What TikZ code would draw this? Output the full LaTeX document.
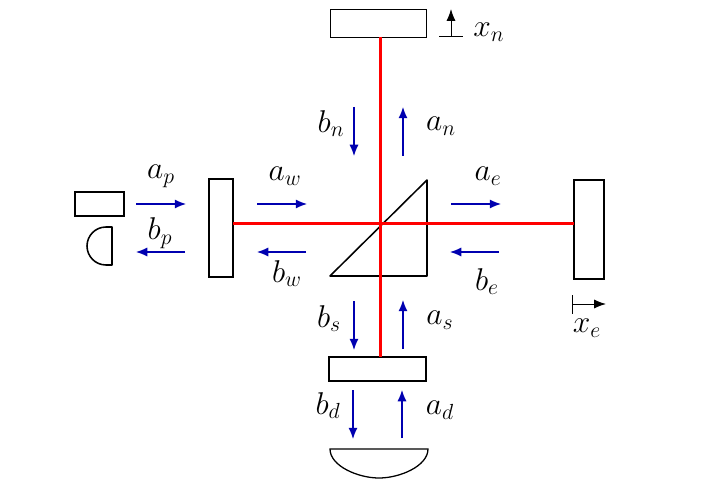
\documentclass[tikz,border=0pt]{standalone}
\usepackage{amssymb, amsmath, amsfonts}
\usetikzlibrary{arrows.meta,fit}
\definecolor{fieldblue}{RGB}{0,0,176}
\tikzset{
	mirror/.style={draw,line width=1.1pt,inner sep=0pt,outer sep=0pt},
	beam/.style={draw=red,line width=2.1pt},
	field/.style={draw=fieldblue,line width=.9pt,-{Latex[length=8pt,width=6.5pt]}},
	shift arrow/.style={line width=.7pt,-{Latex[length=8.5pt,width=6.5pt]}},
	lbl/.style={inner sep=0pt,font=\huge,scale=1.08,yshift=-1pt}
}
\begin{document}
\begin{tikzpicture}[x=.025cm,y=-.025cm]
	\useasboundingbox (0,0) rectangle (706,499);

	\node[mirror,line width=.7pt,fit={(330,9) (426,37)}] (mirrorN) {};
	\node[mirror,fit={(329,357) (426,381)}] (mirrorS) {};
	\node[mirror,fit={(574,180) (604,279)}] (mirrorE) {};
	\node[mirror,fit={(209,179) (233,277)}] (mirrorW) {};
	\node[mirror,fit={(75,192) (124,216)}] (mirrorP) {};

	% beam splitter
	\coordinate (split) at (380.5,223.5);
	\draw[line width=1.1pt,line join=round] (330,276) -- (427,180) -- (427,276) -- cycle;
	\draw[beam] (split |- mirrorN.south) -- (split |- mirrorS.north);
	\draw[beam] (mirrorW.east |- split) -- (mirrorE.west |- split);

	% detectors
	\draw[line width=1.1pt,line join=round] (112,227) -- (106,227) .. controls (95,227) and (87,236) .. (87,246) .. controls (87,256) and (95,265) .. (106,265) -- (112,265) -- cycle;
	\draw[line width=.9pt] (330,449) -- (428,449) .. controls (428,466) and (400,478) .. (379,478) .. controls (358,478) and (330,466) .. (330,449) -- cycle;

	% field arrows
	\foreach \name/\xa/\ya/\xb/\yb in {
		ap/136/204/186/204, bp/185/252/136/252,
		aw/257/204/307/204, bw/306/252/257/252,
		ae/451/204/501/204, be/499/252/450/252,
		an/403/156/403/107, bn/354/107/354/156,
		as/403/349/403/300, bs/354/301/354/350,
		ad/402/438/402/390, bd/353/390/353/439}
	{
		\coordinate (\name0) at (\xa,\ya);
		\coordinate (\name1) at (\xb,\yb);
		\draw[field] (\name0) -- (\name1);
	}

	\foreach \name/\x/\y/\txt in {
		ap/161/175/a_p, bp/160/232/b_p,
		aw/285/175/a_w, bw/287/272/b_w,
		ae/488/175/a_e, be/487/280/b_e,
		an/441/125/a_n, bn/331/122/b_n,
		as/440/319/a_s, bs/329/317/b_s,
		ad/440/409/a_d, bd/328/404/b_d,
		xn/489/31/x_n, xe/587/327/x_e}
		\node[lbl] (lbl\name) at (\x,\y) {\(\txt\)};

	% mirror shifts
	\coordinate (xnl) at (439,36);
	\coordinate (xnr) at (463,36);
	\coordinate (xnb) at (451,36);
	\coordinate (xnt) at (451,9);
	\draw[line width=.7pt] (xnl) -- (xnr);
	\draw[shift arrow] (xnb) -- (xnt);
	\coordinate (xet) at (572,295);
	\coordinate (xeb) at (572,314);
	\coordinate (xel) at (572,304);
	\coordinate (xer) at (606,304);
	\draw[line width=.7pt] (xet) -- (xeb);
	\draw[shift arrow] (xel) -- (xer);
\end{tikzpicture}
\end{document}
